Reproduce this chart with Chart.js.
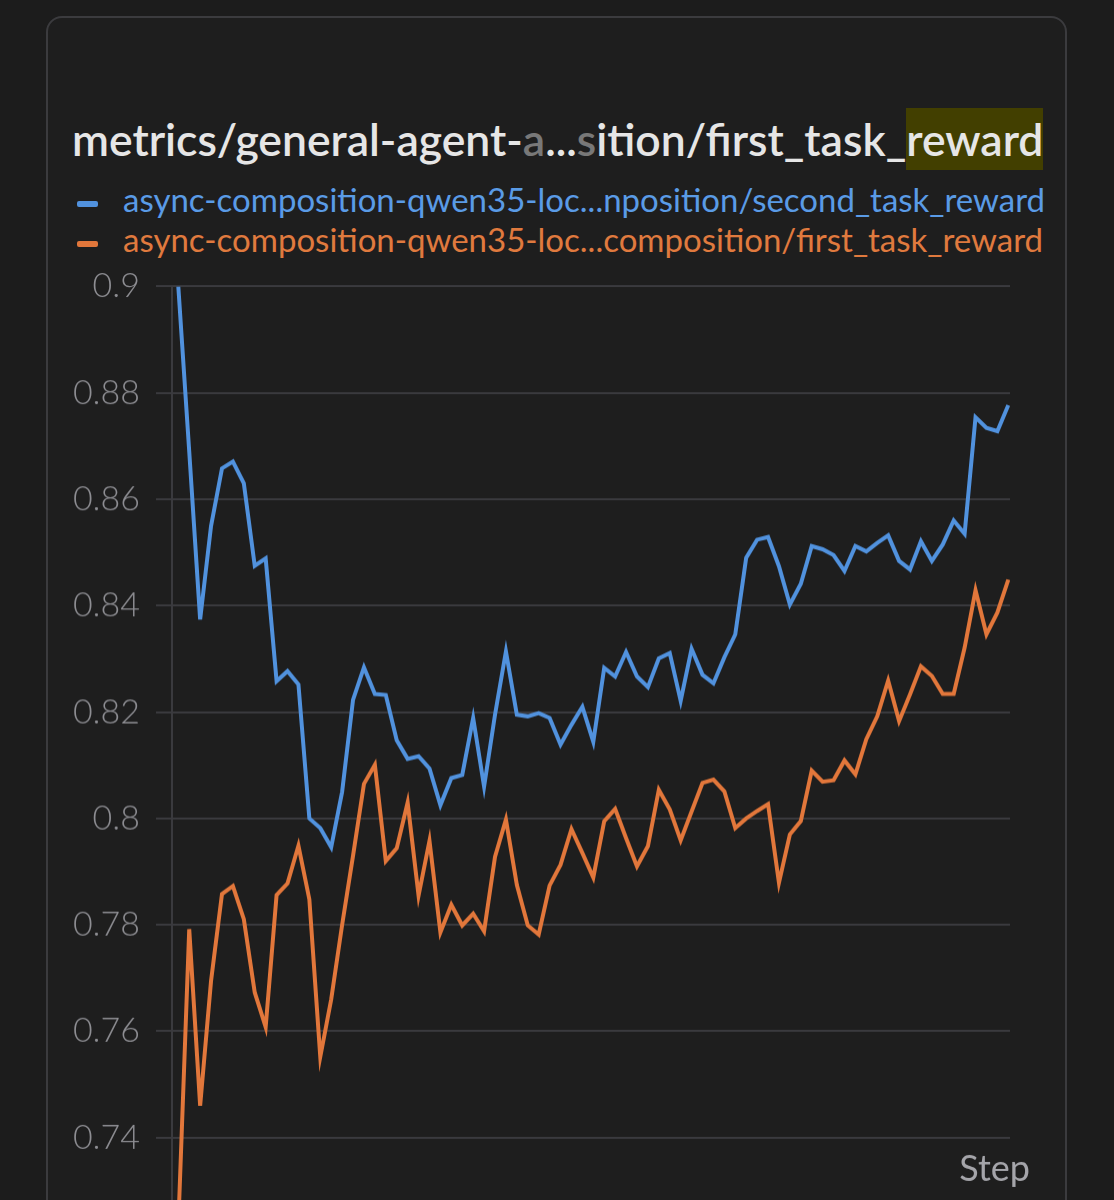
<!DOCTYPE html>
<html>
<head>
<meta charset="utf-8">
<script src="https://cdn.jsdelivr.net/npm/chart.js@4"></script>
<style>
  html, body { margin: 0; padding: 0; background: #1c1c1c; }
  #page { position: relative; width: 1114px; height: 1200px; overflow: hidden; background: #1c1c1c; font-family: Lato, "Noto Sans", sans-serif; }
  #card { position: absolute; left: 46px; top: 16px; width: 1021px; height: 1400px; box-sizing: border-box;
          border: 2px solid #3b3b3e; border-radius: 16px; background: #1e1e1e; }
  #title { position: absolute; left: 72px; top: 108px; height: 62px; line-height: 62px; font-size: 44.5px;
           font-weight: 600; color: #e6e6e6; white-space: nowrap; }
  #title .hl { background: #423f00; display: inline-block; height: 62px; }
  .fade { opacity: 0.45; }
  .legend { position: absolute; left: 77px; height: 40px; line-height: 40px; font-size: 33px; white-space: nowrap; }
  .legend .dash { display: inline-block; width: 21px; height: 6px; border-radius: 2px; vertical-align: middle; margin-right: 25px; }
  #chartBox { position: absolute; left: 60px; top: 250px; width: 980px; height: 1029.5px; }
</style>
</head>
<body>
<div id="page">
  <div id="card"></div>
  <div id="title">metrics/general-agent-<span class="fade">a</span>...<span class="fade">s</span>ition/first_task_<span class="hl">reward</span></div>
  <div class="legend" id="leg0" style="top:179px"></div>
  <div class="legend" id="leg1" style="top:219px"></div>
  <div id="chartBox"><canvas id="myChart"></canvas></div>
</div>
<script>
const seriesNames = [
  'async-composition-qwen35-loc...nposition/second_task_reward',
  'async-composition-qwen35-loc...composition/first_task_reward'
];
const seriesColors = ['#5192de', '#e2773b'];

const steps = [
  0, 1, 2, 3, 4, 5, 6, 7, 8, 9, 10, 11, 12, 13, 14, 15, 16, 17, 18, 19,
  20, 21, 22, 23, 24, 25, 26, 27, 28, 29, 30, 31, 32, 33, 34, 35, 36, 37, 38, 39,
  40, 41, 42, 43, 44, 45, 46, 47, 48, 49, 50, 51, 52, 53, 54, 55, 56, 57, 58, 59,
  60, 61, 62, 63, 64, 65, 66, 67, 68, 69, 70, 71, 72, 73, 74, 75, 76
];

const secondTaskReward = [
  0.900, 0.869, 0.8374, 0.855, 0.8658, 0.8671, 0.863, 0.8475, 0.8489, 0.8258,
  0.8277, 0.8252, 0.800, 0.7982, 0.7946, 0.805, 0.8223, 0.8284, 0.8234, 0.8232,
  0.8147, 0.8112, 0.8117, 0.8094, 0.8025, 0.8076, 0.8082, 0.8189, 0.806, 0.8195,
  0.8314, 0.8195, 0.8192, 0.8198, 0.8189, 0.8139, 0.8176, 0.821, 0.8144, 0.8283,
  0.8267, 0.8313, 0.8267, 0.8247, 0.8301, 0.8311, 0.8221, 0.8319, 0.827, 0.8254,
  0.8303, 0.8346, 0.849, 0.8524, 0.8529, 0.8474, 0.8402, 0.8441, 0.8512, 0.8506,
  0.8495, 0.8465, 0.8512, 0.8502, 0.8518, 0.8532, 0.8484, 0.8468, 0.8521, 0.8484,
  0.8515, 0.856, 0.8535, 0.8754, 0.8734, 0.8728, 0.8777
];

const firstTaskReward = [
  0.7235, 0.7792, 0.746, 0.7695, 0.7858, 0.7873, 0.7811, 0.7673, 0.7608, 0.7856,
  0.7878, 0.7949, 0.7848, 0.7552, 0.766, 0.780, 0.793, 0.8065, 0.8101, 0.792,
  0.7944, 0.803, 0.7855, 0.7958, 0.7786, 0.7838, 0.7799, 0.7821, 0.7788, 0.7928,
  0.7998, 0.7875, 0.7799, 0.7782, 0.7874, 0.7913, 0.798, 0.7935, 0.7889, 0.7995,
  0.8018, 0.7963, 0.791, 0.7948, 0.8054, 0.8017, 0.7959, 0.8013, 0.8067, 0.8073,
  0.8051, 0.7982, 0.800, 0.8014, 0.8027, 0.7879, 0.797, 0.7995, 0.809, 0.8069,
  0.8072, 0.8109, 0.8083, 0.8149, 0.8192, 0.8259, 0.8183, 0.8233, 0.8286, 0.8268,
  0.8234, 0.8234, 0.8321, 0.8429, 0.8346, 0.8387, 0.8449
];

const yTicks = [0.72, 0.74, 0.76, 0.78, 0.8, 0.82, 0.84, 0.86, 0.88, 0.9];

// legend (html so the text stays selectable)
const legendText = ['#5a9be6', '#e07a3e'];
seriesNames.forEach((name, i) => {
  const el = document.getElementById('leg' + i);
  el.innerHTML = '<span class="dash" style="background:' + seriesColors[i] + '"></span>' +
    '<span style="color:' + legendText[i] + '">' + name + '</span>';
});

function toPoints(values) {
  return steps.map((s, i) => ({x: s, y: values[i]}));
}

const stepLabel = {
  id: 'stepLabel',
  afterDraw(chart) {
    const {ctx, chartArea} = chart;
    ctx.save();
    ctx.font = '36px Lato, "Noto Sans", sans-serif';
    ctx.fillStyle = '#a5a5aa';
    ctx.textAlign = 'right';
    ctx.textBaseline = 'middle';
    ctx.fillText('Step', chartArea.right + 20, chartArea.top + 882);
    ctx.restore();
  }
};

const config = {
  type: 'line',
  data: {
    datasets: [
      {
        label: seriesNames[0],
        data: toPoints(secondTaskReward),
        borderColor: seriesColors[0],
        borderWidth: 4,
        pointRadius: 0,
        tension: 0
      },
      {
        label: seriesNames[1],
        data: toPoints(firstTaskReward),
        borderColor: seriesColors[1],
        borderWidth: 4,
        pointRadius: 0,
        tension: 0
      }
    ]
  },
  options: {
    responsive: true,
    maintainAspectRatio: false,
    animation: false,
    layout: { padding: { top: 25, right: 30, bottom: 16.5, left: 0 } },
    plugins: {
      legend: { display: false },
      tooltip: { enabled: false }
    },
    scales: {
      x: {
        type: 'linear',
        min: -0.577,
        max: 76.156,
        display: false
      },
      y: {
        min: yTicks[0],
        max: yTicks[yTicks.length - 1],
        afterFit(scale) { scale.width = 112; },
        afterBuildTicks(scale) { scale.ticks = yTicks.map(v => ({value: v})); },
        border: { display: true, color: '#3a3a3e', width: 2 },
        grid: { color: '#3a3a3e', lineWidth: 2, tickLength: 16, tickColor: '#3a3a3e' },
        ticks: {
          padding: 16,
          color: '#8e8e93',
          font: { family: 'Lato, "Noto Sans", sans-serif', size: 34, weight: 300 },
          callback: v => String(Number(v.toFixed(2)))
        }
      }
    }
  },
  plugins: [stepLabel]
};

const myChart = new Chart(document.getElementById('myChart'), config);
</script>
</body>
</html>
